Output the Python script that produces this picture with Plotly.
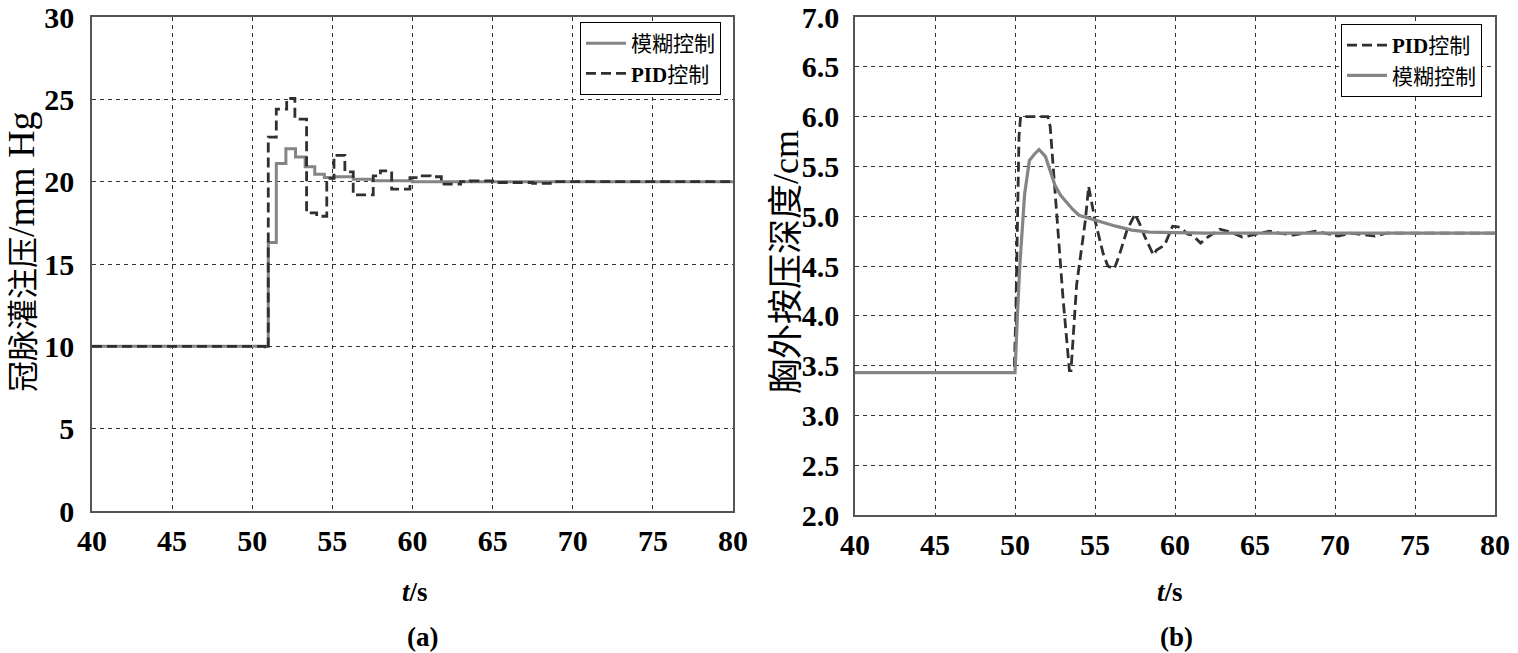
import plotly.graph_objects as go

# ---------------- data: (a) coronary perfusion pressure (step plots) ----------------
a_fuzzy_t = [40, 51.0, 51.5, 52.1, 52.7, 53.3, 53.9, 54.5, 55.1, 56.3, 57.5, 60.0, 80]
a_fuzzy_v = [10.0, 16.3, 21.1, 22.0, 21.5, 20.9, 20.45, 20.25, 20.3, 20.15, 20.05, 20.0, 20.0]

a_pid_t = [40, 50.8, 51.0, 51.5, 52.15, 52.66, 53.39, 54.02, 54.65, 55.1, 55.78, 56.3,
           57.55, 58.0, 58.7, 59.84, 60.46, 61.1, 61.8, 63.0, 63.6, 65.0, 67.5, 68.6, 80]
a_pid_v = [10.0, 9.85, 22.7, 24.4, 25.05, 23.8, 18.1, 17.9, 20.2, 21.6, 20.6, 19.2,
           20.35, 20.65, 19.55, 20.25, 20.35, 20.3, 19.85, 20.0, 20.05, 19.95, 19.9, 20.0, 20.0]

# ---------------- data: (b) chest compression depth ----------------
b_pid_t = [40, 49.95, 50.05, 50.25, 50.35, 52.05, 52.2, 52.5, 53.0, 53.4, 53.5, 53.85,
           54.4, 54.6, 55.0, 55.5, 55.8, 56.2, 56.5, 57.0, 57.5, 57.8, 58.1, 58.65, 58.85,
           59.35, 59.65, 59.85, 60.3, 60.8, 61.1, 61.6, 62.05, 62.8, 63.5, 64.2, 65.1, 65.9,
           66.5, 67.4, 68.8, 70.2, 71.0, 72.5, 73.2, 80]
b_pid_v = [3.43, 3.43, 4.0, 5.8, 6.0, 6.0, 5.9, 5.25, 4.18, 3.45, 3.45, 4.31,
           4.96, 5.3, 4.96, 4.63, 4.5, 4.47, 4.6, 4.86, 5.02, 4.92, 4.8, 4.61, 4.66,
           4.71, 4.82, 4.9, 4.89, 4.82, 4.81, 4.73, 4.79, 4.87, 4.84, 4.79, 4.82, 4.85,
           4.83, 4.81, 4.85, 4.8, 4.83, 4.8, 4.83, 4.83]

b_fuzzy_t = [40, 50.0, 50.15, 50.3, 50.6, 50.9, 51.2, 51.5, 51.9, 52.2, 52.5, 52.85, 53.2,
             53.6, 54.0, 55.0, 56.3, 57.3, 58.4, 60.0, 62.0, 80]
b_fuzzy_v = [3.43, 3.43, 4.0, 4.5, 5.22, 5.56, 5.62, 5.67, 5.6, 5.45, 5.31, 5.21, 5.14,
             5.07, 5.01, 4.96, 4.9, 4.86, 4.84, 4.835, 4.83, 4.83]

name_fuzzy = "模糊控制"
name_pid = "<b>PID</b>控制"

# ---------------- styles ----------------
FONT = "Liberation Serif, Times New Roman, Noto Sans CJK SC, serif"
GRAY = "#858585"
DARK = "#303030"
PID_DASH = "10px,5px"

fig = go.Figure()

fig.add_trace(go.Scatter(x=a_fuzzy_t, y=a_fuzzy_v, mode="lines", line_shape="hv",
                         name=name_fuzzy, line=dict(color=GRAY, width=3),
                         xaxis="x", yaxis="y", legend="legend"))
fig.add_trace(go.Scatter(x=a_pid_t, y=a_pid_v, mode="lines", line_shape="hv",
                         name=name_pid, line=dict(color=DARK, width=2.8, dash=PID_DASH),
                         xaxis="x", yaxis="y", legend="legend"))

fig.add_trace(go.Scatter(x=b_pid_t, y=b_pid_v, mode="lines",
                         name=name_pid, line=dict(color=DARK, width=2.8, dash=PID_DASH),
                         xaxis="x2", yaxis="y2", legend="legend2"))
fig.add_trace(go.Scatter(x=b_fuzzy_t, y=b_fuzzy_v, mode="lines",
                         name=name_fuzzy, line=dict(color=GRAY, width=3.2),
                         xaxis="x2", yaxis="y2", legend="legend2"))

W, H = 1518, 653

def px_x(p):
    return p / W

def px_y(p):
    return 1 - p / H

axis_common = dict(
    showline=True, mirror=True, linecolor="#555555", linewidth=1.5,
    showgrid=True, gridcolor="#333333", gridwidth=1, griddash="4px,4px",
    zeroline=False, ticks="", ticklabeloverflow="allow", automargin=False,
    tickfont=dict(family=FONT, size=30, color="black", weight="bold"),
)

fig.update_layout(
    width=W, height=H,
    margin=dict(l=0, r=0, t=0, b=0, autoexpand=False),
    paper_bgcolor="white", plot_bgcolor="white",
    showlegend=True,
    xaxis=dict(domain=[px_x(92), px_x(733)], range=[40, 80], dtick=5, tick0=40,
               anchor="y", ticklabelstandoff=2, **axis_common),
    yaxis=dict(domain=[px_y(511), px_y(17)], range=[0, 30], dtick=5, tick0=0,
               anchor="x", ticklabelstandoff=10, **axis_common),
    xaxis2=dict(domain=[px_x(855), px_x(1495)], range=[40, 80], dtick=5, tick0=40,
                anchor="y2", ticklabelstandoff=2, **axis_common),
    yaxis2=dict(domain=[px_y(515), px_y(17)], range=[2, 7], dtick=0.5, tick0=2,
                tickformat=".1f", anchor="x2", ticklabelstandoff=8, **axis_common),
    legend=dict(x=px_x(721), xanchor="right", y=px_y(22), yanchor="top",
                bgcolor="white", bordercolor="black", borderwidth=1,
                font=dict(family=FONT, size=21, color="black"),
                tracegroupgap=0, itemwidth=40),
    legend2=dict(x=px_x(1482), xanchor="right", y=px_y(24), yanchor="top",
                 bgcolor="white", bordercolor="black", borderwidth=1,
                 font=dict(family=FONT, size=21, color="black"),
                 tracegroupgap=0, itemwidth=40),
)

annotations = [
    dict(text='冠脉灌注压<span style="font-size:38px">/mm Hg</span>', x=px_x(21), y=px_y(252),
         textangle=-90, font=dict(family=FONT, size=31, color="black")),
    dict(text='胸外按压深度<span style="font-size:36px">/cm</span>', x=px_x(786), y=px_y(262),
         textangle=-90, font=dict(family=FONT, size=35, color="black")),
    dict(text="<b><i>t</i>/s</b>", x=px_x(415), y=px_y(592), font=dict(family=FONT, size=27, color="black")),
    dict(text="<b><i>t</i>/s</b>", x=px_x(1170), y=px_y(592), font=dict(family=FONT, size=27, color="black")),
    dict(text="<b>(a)</b>", x=px_x(422), y=px_y(637), font=dict(family=FONT, size=27, color="black")),
    dict(text="<b>(b)</b>", x=px_x(1176), y=px_y(637), font=dict(family=FONT, size=27, color="black")),
]
for a in annotations:
    a.update(xref="paper", yref="paper", showarrow=False, xanchor="center", yanchor="middle")
fig.update_layout(annotations=annotations)

fig.write_html("out.html",
               config={"displayModeBar": False},
               post_script="document.body.style.margin='0';document.body.style.padding='0';"
                           "document.body.style.overflow='hidden';")
